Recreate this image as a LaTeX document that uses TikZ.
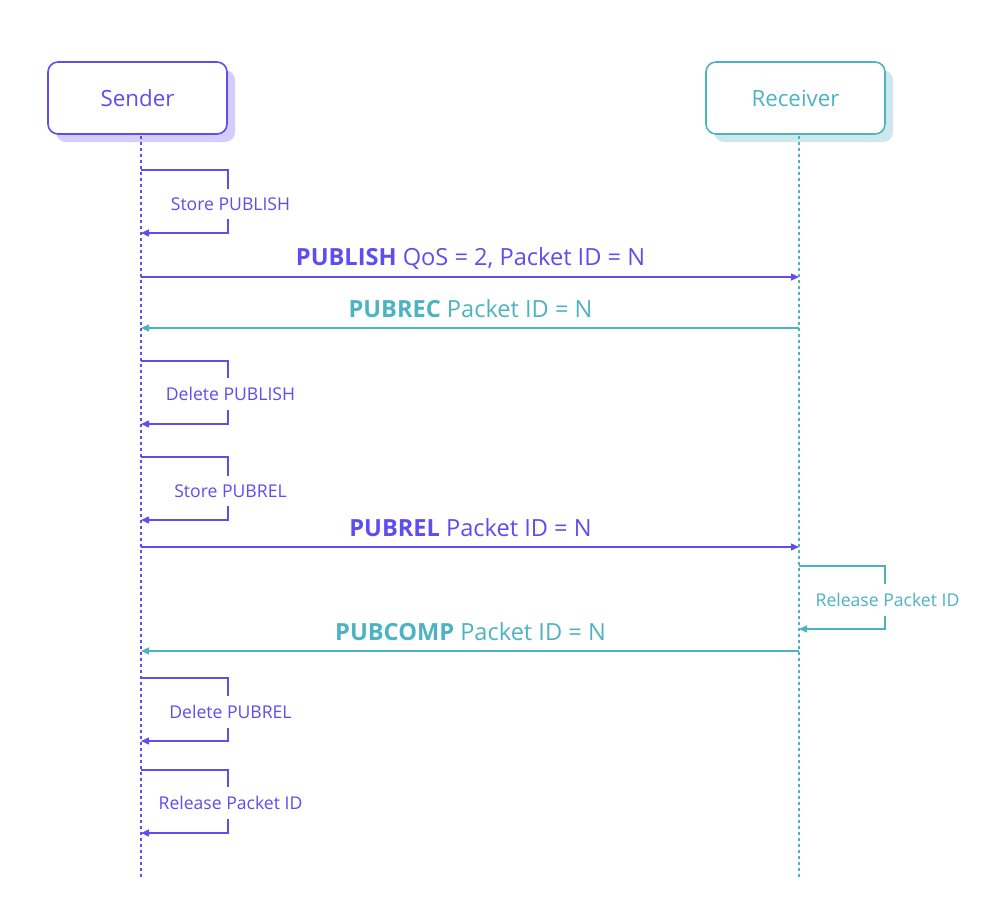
\documentclass[tikz,border=0pt]{standalone}
\usepackage{fontspec}
\setmainfont{Open Sans}
\usetikzlibrary{arrows.meta}
\definecolor{pur}{HTML}{5E4DF0}
\definecolor{purS}{HTML}{D2CDFD}
\definecolor{teal}{HTML}{4DB3C2}
\definecolor{tealS}{HTML}{CDE7EC}
\tikzset{
  actor/.style={draw=#1, line width=1.6pt, rounded corners=10pt, fill=white, minimum width=179pt, minimum height=72pt, font=\fontsize{22.3}{26}\selectfont, text=#1},
  life/.style={draw=#1, line width=1.3pt, dash pattern=on 3pt off 3pt},
  msg/.style={draw=#1, line width=1.4pt, -{Triangle[length=8pt,width=7pt]}},
  loop/.style={draw=#1, line width=1.4pt, -{Triangle[length=8pt,width=7pt]}},
  looplbl/.style={fill=white, inner xsep=3pt, inner ysep=9pt, text=#1, font=\fontsize{17.6}{20}\selectfont},
  msglbl/.style={text=#1, font=\fontsize{23.6}{27}\selectfont, inner sep=1pt},
}
\begin{document}
\begin{tikzpicture}[x=1pt,y=-1pt]
\useasboundingbox (0,0) rectangle (998,910);
% shadows
\fill[purS, rounded corners=10pt] (56,70) rectangle (235,142);
\fill[tealS, rounded corners=10pt] (714,70) rectangle (893,142);
\node[actor=pur] (S) at (137.5,98) {Sender};
\node[actor=teal] (R) at (795.5,98) {Receiver};
% lifelines
\coordinate (Sb) at (141,878);
\coordinate (Rb) at (799,878);
\coordinate (St) at (141,136);
\coordinate (Rt) at (799,136);
\draw[life=pur] (St) -- (Sb);
\draw[life=teal] (Rt) -- (Rb);
% Store PUBLISH
\coordinate (a1) at (141,170); \coordinate (a2) at (141,233);
\draw[loop=pur] (a1) -- (228,170) -- (228,233) -- (a2);
\node[looplbl=pur] (l1) at (230.5,204) {Store PUBLISH};
% PUBLISH
\coordinate (p1s) at (141,277); \coordinate (p1r) at (799,277);
\draw[msg=pur] (p1s) -- (p1r);
\node[msglbl=pur] (m1) at (470.5,259) {\textbf{PUBLISH} QoS = 2, Packet ID = N};
% PUBREC
\coordinate (p2s) at (141,328); \coordinate (p2r) at (799,328);
\draw[msg=teal] (p2r) -- (p2s);
\node[msglbl=teal] (m2) at (470.5,309) {\textbf{PUBREC} Packet ID = N};
% Delete PUBLISH
\coordinate (b1) at (141,361); \coordinate (b2) at (141,424);
\draw[loop=pur] (b1) -- (228,361) -- (228,424) -- (b2);
\node[looplbl=pur] (l2) at (230.5,394) {Delete PUBLISH};
% Store PUBREL
\coordinate (c1) at (141,457); \coordinate (c2) at (141,520);
\draw[loop=pur] (c1) -- (228,457) -- (228,520) -- (c2);
\node[looplbl=pur] (l3) at (230.5,491) {Store PUBREL};
% PUBREL
\coordinate (p3s) at (141,547); \coordinate (p3r) at (799,547);
\draw[msg=pur] (p3s) -- (p3r);
\node[msglbl=pur] (m3) at (470.5,528) {\textbf{PUBREL} Packet ID = N};
% Release Packet ID (receiver)
\coordinate (d1) at (799,566); \coordinate (d2) at (799,629);
\draw[loop=teal] (d1) -- (885,566) -- (885,629) -- (d2);
\node[looplbl=teal] (l4) at (887.5,600) {Release Packet ID};
% PUBCOMP
\coordinate (p4s) at (141,651); \coordinate (p4r) at (799,651);
\draw[msg=teal] (p4r) -- (p4s);
\node[msglbl=teal] (m4) at (470.5,632) {\textbf{PUBCOMP} Packet ID = N};
% Delete PUBREL
\coordinate (e1) at (141,678); \coordinate (e2) at (141,741);
\draw[loop=pur] (e1) -- (228,678) -- (228,741) -- (e2);
\node[looplbl=pur] (l5) at (230.5,712) {Delete PUBREL};
% Release Packet ID (sender)
\coordinate (f1) at (141,770); \coordinate (f2) at (141,833);
\draw[loop=pur] (f1) -- (228,770) -- (228,833) -- (f2);
\node[looplbl=pur] (l6) at (230.5,803) {Release Packet ID};
\end{tikzpicture}
\end{document}
